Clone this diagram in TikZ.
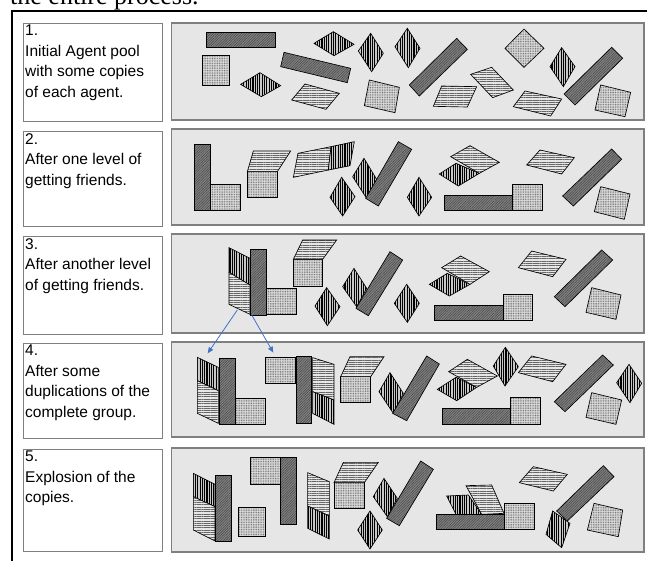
\documentclass[tikz,border=0pt]{standalone}
\usepackage{fontspec}
\setmainfont{Liberation Sans}
\newfontfamily\headserif{Liberation Serif}
\usetikzlibrary{patterns.meta,arrows.meta}
\definecolor{panelfill}{HTML}{E6E6E6}
\definecolor{panelline}{HTML}{7F7F7F}
\definecolor{barfill}{HTML}{808080}
\definecolor{barline}{HTML}{4A4A4A}
\definecolor{sqfill}{HTML}{DCDCDC}
\definecolor{sqdot}{HTML}{707070}
\definecolor{parfill}{HTML}{E6E6E6}
\definecolor{parline}{HTML}{666666}
\definecolor{diafill}{HTML}{C8C8C8}
\definecolor{arrowblue}{HTML}{4472C4}
\begin{document}
\begin{tikzpicture}[x=1pt,y=-1pt,
  panel/.style={draw=panelline, fill=panelfill, line width=1.2pt, inner sep=0pt, outer sep=0pt, anchor=north west},
  labelbox/.style={draw=panelline, fill=white, line width=0.9pt, inner sep=0pt, outer sep=0pt, anchor=north west},
  lbltext/.style={anchor=north west, inner sep=0pt, align=left, font=\fontsize{15.5}{20.5}\selectfont},
  bar/.style={draw=black, line width=0.65pt, preaction={fill=barfill}, pattern={Lines[angle=45,distance=1.8pt,line width=0.5pt]}, pattern color=barline},
  sq/.style={draw=black, line width=0.65pt, preaction={fill=sqfill}, pattern={Dots[distance=1.7pt,radius=0.55pt]}, pattern color=sqdot},
  dia/.style={draw=black, line width=0.65pt, preaction={fill=diafill}, pattern={Lines[angle=90,distance=2.3pt,line width=1.1pt]}, pattern color=black},
  par/.style={draw=black, line width=0.65pt, preaction={fill=parfill}, pattern={Lines[angle=0,distance=2.3pt,line width=0.65pt]}, pattern color=parline},
  flow/.style={draw=arrowblue, line width=0.8pt, -{Triangle[length=6pt,width=5pt]}},
  zoomed/.style={x=0.33333pt, y=-0.33333pt}]
\useasboundingbox (0,0) rectangle (647,560);
\fill[white] (0,0) rectangle (647,560);
\node[anchor=base west, inner sep=0pt, font=\headserif\fontsize{26}{26}\selectfont] (head) at (10,4) {the entire process.};
\draw[line width=2.4pt] (11.8,11) rectangle (700,620);

% label boxes
\node[labelbox, minimum width=139pt, minimum height=98pt] (l1) at (23,23) {};
\node[labelbox, minimum width=139pt, minimum height=95pt] (l2) at (23,131) {};
\node[labelbox, minimum width=139pt, minimum height=98pt] (l3) at (23,236) {};
\node[labelbox, minimum width=139pt, minimum height=95pt] (l4) at (23,343) {};
\node[labelbox, minimum width=139pt, minimum height=102pt] (l5) at (23,449) {};
\node[lbltext] (t1) at (25,25) {1.\\Initial Agent pool\\with some copies\\of each agent.};
\node[lbltext] (t2) at (25,133) {2.\\After one level of\\getting friends.};
\node[lbltext] (t3) at (25,238) {3.\\After another level\\of getting friends.};
\node[lbltext] (t4) at (25,345) {4.\\After some\\duplications of the\\complete group.};
\node[lbltext] (t5) at (25,451) {5.\\Explosion of the\\copies.};

% panels
\node[panel, minimum width=472.5pt, minimum height=97pt] (p1) at (171.5,23) {};
\node[panel, minimum width=472.5pt, minimum height=96pt] (p2) at (171.5,129) {};
\node[panel, minimum width=472.5pt, minimum height=99pt] (p3) at (171.5,234) {};
\node[panel, minimum width=472.5pt, minimum height=95pt] (p4) at (171.5,342) {};
\node[panel, minimum width=472.5pt, minimum height=104pt] (p5) at (171.5,448) {};

% panel 1
\begin{scope}[shift={(160,15)}, zoomed]
\draw[bar] (140,52) rectangle (345,98);
\draw[sq] (127,122) rectangle (208,210);
\draw[dia] (242,208) -- (300,173) -- (362,212) -- (304,245) -- cycle;
\draw[bar] (372,112) -- (572,160) -- (562,203) -- (362,155) -- cycle;
\draw[dia] (462,85) -- (520,50) -- (582,88) -- (522,122) -- cycle;
\draw[par] (395,255) -- (435,207) -- (538,235) -- (498,283) -- cycle;
\draw[dia] (632,55) -- (670,115) -- (635,170) -- (595,108) -- cycle;
\draw[dia] (742,40) -- (780,100) -- (745,158) -- (705,95) -- cycle;
\draw[sq] (628,195) -- (718,217) -- (705,293) -- (613,272) -- cycle;
\draw[bar] (890,70) -- (922,103) -- (778,243) -- (748,210) -- cycle;
\draw[par] (820,274) -- (845,213) -- (950,215) -- (922,276) -- cycle;
\draw[sq] (1092,42) -- (1152,100) -- (1092,157) -- (1035,100) -- cycle;
\draw[par] (932,178) -- (995,157) -- (1060,225) -- (998,248) -- cycle;
\draw[dia] (1205,98) -- (1245,155) -- (1210,215) -- (1170,155) -- cycle;
\draw[par] (1060,275) -- (1095,228) -- (1205,252) -- (1172,303) -- cycle;
\draw[bar] (1355,97) -- (1388,130) -- (1245,270) -- (1212,237) -- cycle;
\draw[sq] (1322,210) -- (1412,232) -- (1395,305) -- (1305,285) -- cycle;
\end{scope}

% panel 2
\begin{scope}[shift={(160,120)}, zoomed]
\draw[bar] (102,73) rectangle (150,272);
\draw[sq] (150,193) rectangle (242,270);
\draw[sq] (262,155) rectangle (352,232);
\draw[par] (262,155) -- (280,93) -- (392,93) -- (352,155) -- cycle;
\draw[par] (400,172) -- (414,100) -- (513,80) -- (505,150) -- cycle;
\draw[dia] (505,150) -- (513,80) -- (583,65) -- (570,137) -- cycle;
\draw[dia] (545,172) -- (585,230) -- (548,288) -- (510,232) -- cycle;
\draw[dia] (612,115) -- (650,178) -- (620,235) -- (578,170) -- cycle;
\draw[bar] (715,65) -- (755,88) -- (655,258) -- (617,235) -- cycle;
\draw[dia] (777,172) -- (815,232) -- (777,288) -- (742,232) -- cycle;
\draw[dia] (838,162) -- (888,130) -- (958,160) -- (895,198) -- cycle;
\draw[par] (872,110) -- (930,77) -- (1018,127) -- (958,160) -- cycle;
\draw[bar] (852,225) rectangle (1058,270);
\draw[sq] (1058,192) rectangle (1148,270);
\draw[par] (1100,135) -- (1140,90) -- (1243,113) -- (1205,162) -- cycle;
\draw[bar] (1355,87) -- (1385,118) -- (1240,258) -- (1208,228) -- cycle;
\draw[sq] (1322,200) -- (1410,222) -- (1393,298) -- (1303,275) -- cycle;
\end{scope}

% panel 3
\begin{scope}[shift={(160,225)}, zoomed]
\draw[dia] (207,68) -- (270,100) -- (270,180) -- (207,142) -- cycle;
\draw[par] (207,142) -- (270,180) -- (270,268) -- (207,238) -- cycle;
\draw[bar] (272,73) rectangle (320,270);
\draw[sq] (320,190) rectangle (410,268);
\draw[sq] (400,103) rectangle (488,183);
\draw[par] (400,103) -- (428,45) -- (530,45) -- (488,103) -- cycle;
\draw[dia] (500,188) -- (540,245) -- (502,302) -- (465,243) -- cycle;
\draw[dia] (582,130) -- (620,190) -- (590,245) -- (548,185) -- cycle;
\draw[bar] (690,80) -- (728,105) -- (625,272) -- (588,250) -- cycle;
\draw[dia] (740,178) -- (778,235) -- (742,292) -- (703,235) -- cycle;
\draw[dia] (808,178) -- (862,145) -- (930,178) -- (868,213) -- cycle;
\draw[par] (845,128) -- (902,93) -- (988,140) -- (930,178) -- cycle;
\draw[bar] (823,240) rectangle (1030,287);
\draw[sq] (1030,208) rectangle (1118,287);
\draw[par] (1075,128) -- (1115,78) -- (1218,103) -- (1178,155) -- cycle;
\draw[bar] (1325,75) -- (1358,105) -- (1215,245) -- (1183,215) -- cycle;
\draw[sq] (1295,188) -- (1383,210) -- (1368,283) -- (1278,262) -- cycle;
\coordinate (a1s) at (232,255);
\coordinate (a2s) at (274,268);
\end{scope}

% panel 4
\begin{scope}[shift={(160,330)}, zoomed]
\draw[dia] (112,82) -- (175,112) -- (175,182) -- (112,152) -- cycle;
\draw[par] (112,152) -- (175,182) -- (175,280) -- (112,250) -- cycle;
\draw[bar] (178,85) rectangle (225,283);
\draw[sq] (225,205) rectangle (317,283);
\draw[sq] (317,83) rectangle (405,160);
\draw[bar] (408,80) rectangle (455,280);
\draw[par] (458,83) -- (522,103) -- (522,210) -- (458,185) -- cycle;
\draw[dia] (458,185) -- (522,210) -- (522,283) -- (458,250) -- cycle;
\draw[sq] (542,140) rectangle (632,218);
\draw[par] (542,140) -- (570,80) -- (672,80) -- (632,140) -- cycle;
\draw[dia] (690,128) -- (730,190) -- (700,250) -- (657,185) -- cycle;
\draw[bar] (800,78) -- (838,102) -- (740,272) -- (698,250) -- cycle;
\draw[dia] (832,178) -- (888,142) -- (950,172) -- (890,212) -- cycle;
\draw[par] (866,125) -- (922,88) -- (1012,138) -- (950,172) -- cycle;
\draw[dia] (1036,52) -- (1075,110) -- (1035,168) -- (1000,108) -- cycle;
\draw[par] (1075,128) -- (1115,78) -- (1218,103) -- (1178,155) -- cycle;
\draw[bar] (848,235) rectangle (1050,282);
\draw[sq] (1050,203) rectangle (1142,282);
\draw[bar] (1328,75) -- (1360,105) -- (1215,245) -- (1183,215) -- cycle;
\draw[sq] (1295,188) -- (1385,210) -- (1368,283) -- (1278,262) -- cycle;
\draw[dia] (1407,103) -- (1445,160) -- (1410,218) -- (1370,158) -- cycle;
\coordinate (a1e) at (143,70);
\coordinate (a2e) at (340,68);
\end{scope}

% panel 5
\begin{scope}[shift={(160,435)}, zoomed]
\draw[dia] (100,115) -- (165,148) -- (165,215) -- (100,185) -- cycle;
\draw[par] (100,185) -- (165,215) -- (165,318) -- (100,285) -- cycle;
\draw[bar] (165,120) rectangle (213,320);
\draw[sq] (235,218) rectangle (315,303);
\draw[sq] (270,68) rectangle (360,148);
\draw[bar] (360,67) rectangle (410,267);
\draw[par] (443,113) -- (508,140) -- (508,243) -- (443,213) -- cycle;
\draw[dia] (443,213) -- (508,243) -- (508,312) -- (443,280) -- cycle;
\draw[sq] (522,143) rectangle (613,220);
\draw[par] (522,143) -- (550,82) -- (655,82) -- (613,143) -- cycle;
\draw[dia] (672,130) -- (712,190) -- (682,245) -- (640,185) -- cycle;
\draw[bar] (782,78) -- (820,103) -- (718,272) -- (680,250) -- cycle;
\draw[dia] (630,228) -- (667,285) -- (630,342) -- (593,285) -- cycle;
\draw[dia] (860,183) -- (925,180) -- (965,238) -- (888,238) -- cycle;
\draw[par] (918,152) -- (995,150) -- (1032,235) -- (965,238) -- cycle;
\draw[bar] (828,237) rectangle (1032,283);
\draw[sq] (1032,205) rectangle (1123,283);
\draw[par] (1078,143) -- (1120,95) -- (1222,118) -- (1180,168) -- cycle;
\draw[bar] (1330,92) -- (1362,125) -- (1222,258) -- (1190,228) -- cycle;
\draw[dia] (1178,228) -- (1230,265) -- (1205,338) -- (1158,298) -- cycle;
\draw[sq] (1302,205) -- (1388,225) -- (1375,305) -- (1282,285) -- cycle;
\end{scope}

% duplication arrows
\draw[flow] (a1s) -- (a1e);
\draw[flow] (a2s) -- (a2e);
\end{tikzpicture}
\end{document}
